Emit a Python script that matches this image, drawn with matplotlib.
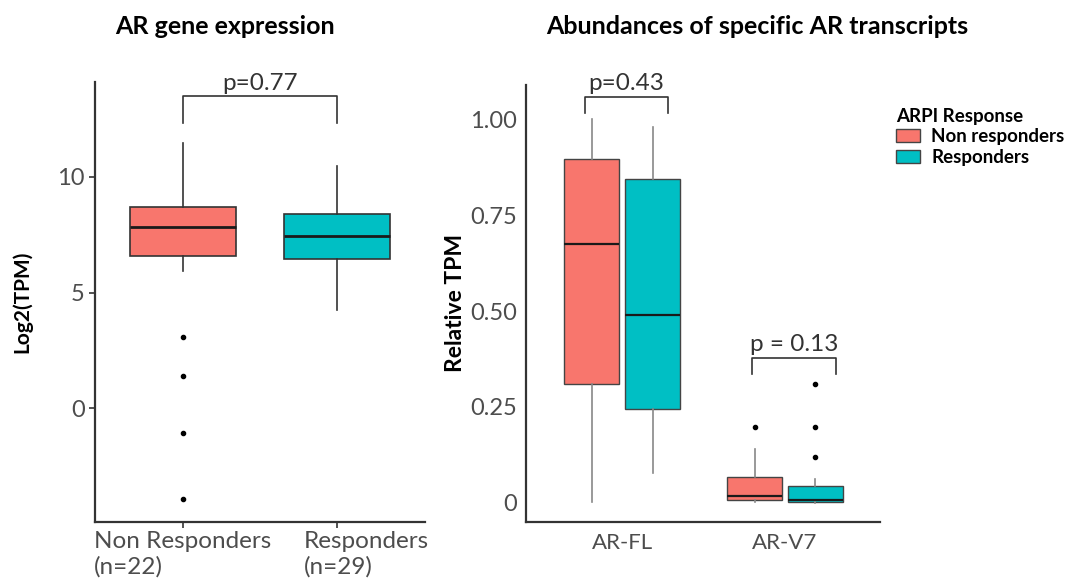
import matplotlib
matplotlib.use("Agg")
import matplotlib.pyplot as plt
import matplotlib.transforms as mtransforms
from matplotlib.patches import Patch

plt.rcParams['font.family'] = ['Lato', 'DejaVu Sans']

# colours (ggplot defaults)
NR_COL = '#F8766D'
R_COL = '#00BFC4'

# ---- left panel: AR gene expression, log2(TPM)
gene_groups = ['Non Responders\n(n=22)', 'Responders\n(n=29)']
gene_q1 = [6.58, 6.45]
gene_med = [7.84, 7.44]
gene_q3 = [8.71, 8.39]
gene_lo = [5.95, 4.25]
gene_hi = [11.47, 10.46]
gene_fliers = [[3.10, 1.38, -1.08, -3.93], []]
gene_p = 'p=0.77'

# ---- right panel: relative TPM per transcript
transcripts = ['AR-FL', 'AR-V7']
series = ['Non responders', 'Responders']
tx_q1 = {'Non responders': [0.309, 0.007], 'Responders': [0.245, 0.003]}
tx_med = {'Non responders': [0.674, 0.018], 'Responders': [0.491, 0.007]}
tx_q3 = {'Non responders': [0.896, 0.066], 'Responders': [0.846, 0.044]}
tx_lo = {'Non responders': [0.003, 0.002], 'Responders': [0.077, 0.0]}
tx_hi = {'Non responders': [1.000, 0.139], 'Responders': [0.981, 0.061]}
tx_fliers = {'Non responders': [[], [0.198]],
             'Responders': [[], [0.311, 0.198, 0.118]]}
tx_p = ['p=0.43', 'p = 0.13']
tx_bracket = [(1.059, 1.017), (0.378, 0.337)]

fig = plt.figure(figsize=(10.81, 5.85), dpi=100)
ax1 = fig.add_axes([0.0879, 0.1082, 0.3053, 0.7521])
ax2 = fig.add_axes([0.4863, 0.1082, 0.3278, 0.7465])

txt_col = '#4d4d4d'


def style_axes(ax):
    for s in ['top', 'right']:
        ax.spines[s].set_visible(False)
    for s in ['left', 'bottom']:
        ax.spines[s].set_linewidth(1.6)
        ax.spines[s].set_color('#333333')
    ax.tick_params(axis='both', colors='#333333', labelcolor=txt_col,
                   length=4, width=1.2, labelsize=17)


# left
stats = []
for i in range(2):
    stats.append(dict(q1=gene_q1[i], med=gene_med[i], q3=gene_q3[i],
                      whislo=gene_lo[i], whishi=gene_hi[i],
                      fliers=gene_fliers[i]))
bp = ax1.bxp(stats, positions=[1, 2], widths=0.69, patch_artist=True,
             showcaps=False,
             boxprops=dict(linewidth=1.2, edgecolor='#333333'),
             medianprops=dict(color='#1a1a1a', linewidth=2),
             whiskerprops=dict(color='#333333', linewidth=1.2),
             flierprops=dict(marker='o', markersize=3,
                             markerfacecolor='black', markeredgecolor='black'))
for patch, c in zip(bp['boxes'], [NR_COL, R_COL]):
    patch.set_facecolor(c)
ax1.set_xlim(0.429, 2.571)
ax1.set_ylim(-4.89, 14.1)
ax1.set_yticks([0, 5, 10])
ax1.set_xticks([1, 2])
ax1.set_xticklabels(gene_groups, multialignment='left')
style_axes(ax1)
ax1.tick_params(axis='x', labelsize=17.5, pad=3)
# shift second label to the right like the original
lbl = ax1.get_xticklabels()[1]
lbl.set_transform(lbl.get_transform() +
                  mtransforms.ScaledTranslation(0.29, 0, fig.dpi_scale_trans))
ax1.set_ylabel('Log2(TPM)', fontsize=15, fontweight='bold', color='black',
               labelpad=18)
ax1.plot([1, 1, 2, 2], [12.3, 13.48, 13.48, 12.3], color='#333333', lw=1.2)
ax1.text(1.5, 13.55, gene_p, ha='center', va='bottom', fontsize=17.5,
         color='#333333')

# right
offs = {'Non responders': -0.187, 'Responders': 0.187}
cols = {'Non responders': NR_COL, 'Responders': R_COL}
for s in series:
    st = []
    for j in range(2):
        st.append(dict(q1=tx_q1[s][j], med=tx_med[s][j], q3=tx_q3[s][j],
                       whislo=tx_lo[s][j], whishi=tx_hi[s][j],
                       fliers=tx_fliers[s][j]))
    b = ax2.bxp(st, positions=[1 + offs[s], 2 + offs[s]], widths=0.342,
                patch_artist=True, showcaps=False,
                boxprops=dict(linewidth=1.0, edgecolor='#444444'),
                medianprops=dict(color='#1a1a1a', linewidth=1.6),
                whiskerprops=dict(color='#888888', linewidth=1.2),
                flierprops=dict(marker='o', markersize=3,
                                markerfacecolor='black',
                                markeredgecolor='black'))
    for patch in b['boxes']:
        patch.set_facecolor(cols[s])
ax2.set_xlim(0.409, 2.583)
ax2.set_ylim(-0.0496, 1.09)
ax2.set_yticks([0, 0.25, 0.5, 0.75, 1.0])
ax2.set_yticklabels(['0', '0.25', '0.50', '0.75', '1.00'])
ax2.set_xticks([1, 2])
ax2.set_xticklabels(transcripts)
style_axes(ax2)
ax2.tick_params(axis='y', length=0, pad=6)
ax2.tick_params(axis='x', length=0, pad=8, labelsize=16)
ax2.set_ylabel('Relative TPM', fontsize=16.5, fontweight='bold',
               color='black', labelpad=3)
xl = [(0.77, 1.28), (1.80, 2.31)]
for (x0, x1), (top, tip), p in zip(xl, tx_bracket, tx_p):
    ax2.plot([x0, x0, x1, x1], [tip, top, top, tip], color='#333333', lw=1.2)
    ax2.text((x0 + x1) / 2, top + 0.008, p, ha='center', va='bottom',
             fontsize=17.5, color='#333333')

fig.text(225 / 1081, 1 - 27 / 585, 'AR gene expression', fontsize=18,
         fontweight='bold', ha='center', va='center')
fig.text(757 / 1081, 1 - 27 / 585, 'Abundances of specific AR transcripts',
         fontsize=18, fontweight='bold', ha='center', va='center')

handles = [Patch(facecolor=cols[s], edgecolor='#444444', label=s)
           for s in series]
leg = fig.legend(handles=handles, title='ARPI Response', loc='upper left',
                 bbox_to_anchor=(0.813, 0.845), frameon=False, fontsize=13.5,
                 title_fontproperties={'weight': 'bold', 'size': 13.5},
                 handlelength=1.3, handleheight=0.7, handletextpad=0.6,
                 labelspacing=0.2)
leg._legend_box.align = 'left'
for t in leg.get_texts():
    t.set_fontweight('bold')

fig.savefig('out.png', dpi=100)
